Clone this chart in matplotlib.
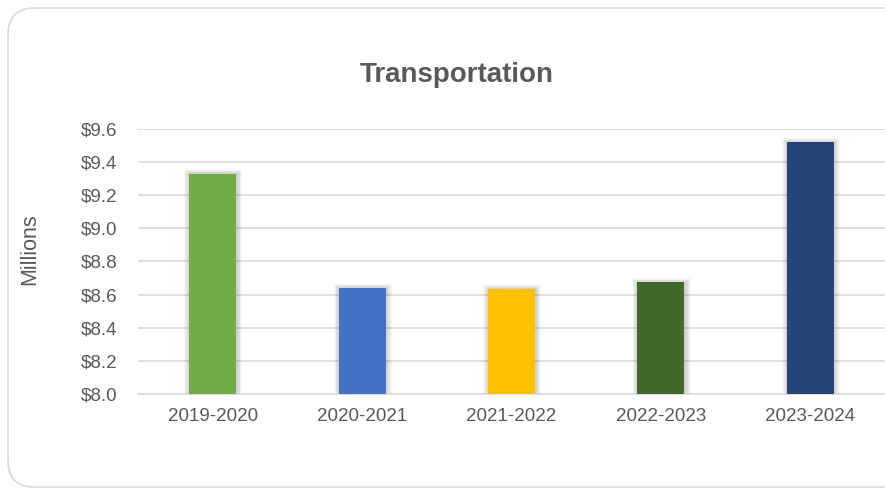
# Transportation spending by fiscal year, bar chart
import matplotlib.pyplot as plt
from matplotlib.patches import FancyBboxPatch

years = ['2019-2020', '2020-2021', '2021-2022', '2022-2023', '2023-2024']
values = [9.33, 8.64, 8.635, 8.675, 9.52]  # millions of dollars
colors = ['#70AD47', '#4472C4', '#FFC000', '#43682B', '#264478']
y_ticks = [8.0, 8.2, 8.4, 8.6, 8.8, 9.0, 9.2, 9.4, 9.6]

plt.rcParams['font.family'] = ['Liberation Sans', 'DejaVu Sans']
text_color = '#595959'
grid_color = '#d9d9d9'

fig = plt.figure(figsize=(8.85, 4.91), dpi=100)

# rounded chart frame, running off the right edge like the screenshot
frame = FancyBboxPatch((8 / 885, 4 / 491), 1.2, 479 / 491,
                       boxstyle='round,pad=0,rounding_size=0.03',
                       transform=fig.transFigure, facecolor='white',
                       edgecolor='#d9d9d9', linewidth=1.2, zorder=-1,
                       mutation_aspect=885 / 491)
fig.patches.append(frame)

ax = fig.add_axes([138 / 885, 1 - 394 / 491, 747 / 885, 265 / 491])
ax.set_zorder(1)
ax.set_facecolor('none')

x = list(range(len(years)))
width = 0.315

# soft shadow behind each bar
for i in range(6):
    grow = 0.012 * (i + 1)
    ax.bar([p + 0.004 for p in x], [v - 8.0 + 0.004 * (i + 1) for v in values],
           width=width + grow, bottom=8.0, color='black', alpha=0.03,
           linewidth=0, zorder=2)

ax.bar(x, [v - 8.0 for v in values], width=width, bottom=8.0,
       color=colors, linewidth=0, zorder=3)

ax.set_xlim(-0.5, len(years) - 0.5)
ax.set_ylim(8.0, 9.6)
ax.set_yticks(y_ticks)
ax.set_yticklabels([f'${t:.1f}' for t in y_ticks])
ax.set_xticks(x)
ax.set_xticklabels(years)

ax.grid(axis='y', color=grid_color, linewidth=1.2, zorder=1)
ax.set_axisbelow(True)
for side in ['top', 'right', 'left']:
    ax.spines[side].set_visible(False)
ax.spines['bottom'].set_color(grid_color)
ax.spines['bottom'].set_linewidth(1.2)

ax.tick_params(axis='both', length=0, labelsize=13.5, colors=text_color)
ax.tick_params(axis='y', pad=15)
ax.tick_params(axis='x', pad=10)

fig.text(30 / 885, 1 - 249 / 491, 'Millions', rotation=90, fontsize=15.5,
         color=text_color, ha='center', va='center')
fig.text(457 / 885, 1 - 75 / 491, 'Transportation', fontsize=20,
         fontweight='bold', color=text_color, ha='center', va='center')

fig.savefig('out.png', dpi=100)
